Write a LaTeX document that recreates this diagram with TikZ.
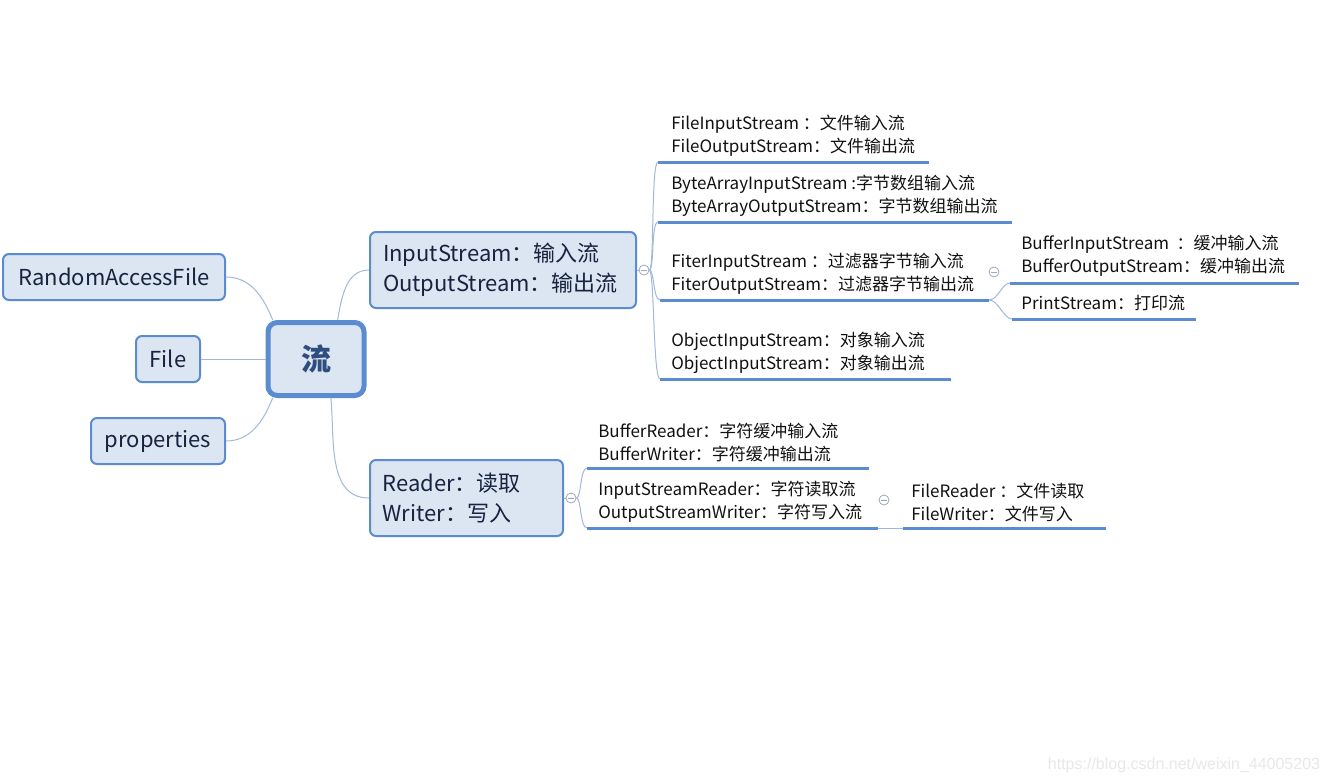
\documentclass[tikz,border=0pt]{standalone}
\usepackage{fontspec}
\setmainfont{Noto Sans CJK SC}
\newfontfamily\wmfont{Liberation Sans}
\definecolor{boxfill}{HTML}{DCE6F2}
\definecolor{boxline}{HTML}{5B8BD0}
\definecolor{boxtext}{HTML}{17233F}
\definecolor{roottext}{HTML}{2E4E80}
\definecolor{connc}{HTML}{A3B8D9}
\definecolor{ulinec}{HTML}{5B8BD0}
\definecolor{leaftext}{HTML}{111111}
\definecolor{colc}{HTML}{9AA8BE}
\begin{document}
\begin{tikzpicture}[x=0.75pt,y=-0.75pt,
  box/.style={draw=boxline, line width=1.5pt, fill=boxfill, rounded corners=4.5pt,
    text=boxtext, font=\fontsize{16.5}{22.5}\selectfont, inner sep=0pt, align=center},
  rootbox/.style={draw=boxline, line width=3.75pt, fill=boxfill, rounded corners=7pt,
    text=roottext, font=\fontsize{22.5}{26}\selectfont\bfseries, inner sep=0pt},
  leaf/.style={font=\fontsize{12.75}{17.25}\selectfont, align=left, anchor=west,
    inner sep=0pt, text=leaftext},
  conn/.style={draw=connc, line width=0.75pt},
  uline/.style={draw=ulinec, line width=2.25pt},
  collapse/.style={circle, draw=colc, line width=0.6pt, minimum size=7.5pt, inner sep=0pt,
    fill=white, path picture={\draw[colc, line width=0.6pt]
      ([xshift=1.8pt]path picture bounding box.west) -- ([xshift=-1.8pt]path picture bounding box.east);}},
  wm/.style={font=\wmfont\fontsize{12}{14}\selectfont, text=black!9, inner sep=0pt}
]
\useasboundingbox (0,0) rectangle (1330,783);
\fill[white] (0,0) rectangle (1330,783);

% main boxes
\node[rootbox, minimum width=72pt, minimum height=54.75pt] (root) at (316,359) {流};
\node[box, minimum width=166.5pt, minimum height=34.5pt] (raf) at (114,277) {RandomAccessFile};
\node[box, minimum width=48pt, minimum height=34.5pt] (file) at (168,359) {File};
\node[box, minimum width=100.5pt, minimum height=34.5pt] (prop) at (158,441) {properties};
\node[box, minimum width=199.5pt, minimum height=57pt, text width=180pt, align=left] (is) at (503,270)
  {\raisebox{-1.5pt}[0pt][0pt]{}InputStream：输入流\\OutputStream：输出流};
\node[box, minimum width=144.75pt, minimum height=57pt, text width=126pt, align=left] (rd) at (466.5,498)
  {Reader：读取\\Writer：写入};

% root connectors
\draw[conn] (raf.east) to[out=0,in=112] (root.138);
\draw[conn] (file.east) -- (root.west);
\draw[conn] (prop.east) to[out=0,in=-112] (root.-138);
\draw[conn] (root.61) to[out=80,in=180] (is.west);
\draw[conn] (root.-69) to[out=-85,in=180] (rd.west);

% collapse buttons
\node[collapse] (c1) at (644,270) {};
\node[collapse] (c2) at (571,498) {};
\node[collapse] (c3) at (994,272) {};
\node[collapse] (c4) at (884,500) {};
\draw[conn] (is.east) -- (c1.west);
\draw[conn] (rd.east) -- (c2.west);

% leaves of InputStream
\node[leaf] (l1) at (671,136) {FileInputStream ：文件输入流\\FileOutputStream：文件输出流};
\node[leaf] (l2) at (671,196) {ByteArrayInputStream :字节数组输入流\\ByteArrayOutputStream：字节数组输出流};
\node[leaf] (l3) at (671,274) {FiterInputStream ：过滤器字节输入流\\FiterOutputStream：过滤器字节输出流};
\node[leaf] (l4) at (671,353) {ObjectInputStream：对象输入流\\ObjectInputStream：对象输出流};
\node[leaf] (l5) at (1021,256) {BufferInputStream \ ：缓冲输入流\\BufferOutputStream：缓冲输出流};
\node[leaf] (l6) at (1021,303.5) {PrintStream：打印流};
\node[leaf] (l7) at (598,442) {BufferReader：字符缓冲输入流\\BufferWriter：字符缓冲输出流};
\node[leaf] (l8) at (598,502) {InputStreamReader：字符读取流\\OutputStreamWriter：字符写入流};
\node[leaf] (l9) at (911,502) {FileReader ：文件读取\\FileWriter：文件写入};

% underline coordinates
\coordinate (u1a) at (658,162); \coordinate (u1b) at (929,162);
\coordinate (u2a) at (658,222); \coordinate (u2b) at (1012,222);
\coordinate (u3a) at (660,300); \coordinate (u3b) at (989,300);
\coordinate (u4a) at (660,379); \coordinate (u4b) at (951,379);
\coordinate (u5a) at (1010,283); \coordinate (u5b) at (1299,283);
\coordinate (u6a) at (1012,319); \coordinate (u6b) at (1196,319);
\coordinate (u7a) at (587,468); \coordinate (u7b) at (869,468);
\coordinate (u8a) at (587,528); \coordinate (u8b) at (878,528);
\coordinate (u9a) at (903,528); \coordinate (u9b) at (1106,528);

% brackets
\foreach \u in {u1a,u2a,u3a,u4a}
  \draw[conn] (c1.east) .. controls +(5,0) and +(-7,0) .. (\u);
\foreach \u in {u5a,u6a}
  \draw[conn] (u3b) .. controls +(9,0) and +(-8,0) .. (\u);
\foreach \u in {u7a,u8a}
  \draw[conn] (c2.east) .. controls +(5,0) and +(-7,0) .. (\u);
\draw[conn] (u8b) -- (u9a);

% underlines
\foreach \a/\b in {u1a/u1b,u2a/u2b,u3a/u3b,u4a/u4b,u5a/u5b,u6a/u6b,u7a/u7b,u8a/u8b,u9a/u9b}
  \draw[uline] (\a) -- (\b);

% watermark
\node[wm] (wmk) at (1184,765) {https://blog.csdn.net/weixin\_44005203};
\end{tikzpicture}
\end{document}
